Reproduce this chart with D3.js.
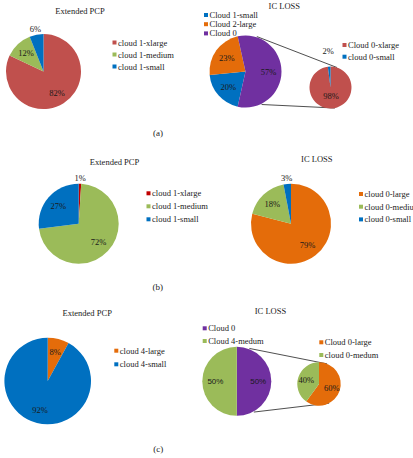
<!DOCTYPE html>
<html>
<head>
<meta charset="utf-8">
<script src="https://cdn.jsdelivr.net/npm/d3@7"></script>
<style>
  body { margin: 0; background: #fff; }
  svg { display: block; }
</style>
</head>
<body>
<svg id="chart"></svg>
<script>
// values (percent)
const aPcpCats = ["cloud 1-xlarge", "cloud 1-medium", "cloud 1-small"];
const aPcpVals = [82, 12, 6];
const aLossCats = ["Cloud 1-small", "Cloud 2-large", "Cloud 0"];
const aLossVals = [20, 23, 57];
const aLossSubCats = ["Cloud 0-xlarge", "cloud 0-small"];
const aLossSubVals = [98, 2];

const bPcpCats = ["cloud 1-xlarge", "cloud 1-medium", "cloud 1-small"];
const bPcpVals = [1, 72, 27];
const bLossCats = ["cloud 0-large", "cloud 0-medium", "cloud 0-small"];
const bLossVals = [79, 18, 3];

const cPcpCats = ["cloud 4-large", "cloud 4-small"];
const cPcpVals = [8, 92];
const cLossCats = ["Cloud 0", "Cloud 4-medum"];
const cLossVals = [50, 50];
const cLossSubCats = ["Cloud 0-large", "cloud 0-medum"];
const cLossSubVals = [60, 40];

// colours
const RED = "#C0504D", GREEN = "#9BBB59", BLUE = "#0070C0",
      PURPLE = "#7030A0", ORANGE = "#E46C0A", DARKRED = "#C00000";

const width = 413, height = 458;
const serif = "'Liberation Serif', 'Times New Roman', serif";
const sans = "'Liberation Sans', Arial, sans-serif";

const svg = d3.select("#chart")
    .attr("width", width)
    .attr("height", height)
    .attr("viewBox", [0, 0, width, height]);

svg.append("rect").attr("width", width).attr("height", height).attr("fill", "#fff");

// point on a circle, angle in degrees clockwise from 12 o'clock
function pt(cx, cy, r, deg) {
    const a = deg * Math.PI / 180;
    return [cx + Math.sin(a) * r, cy - Math.cos(a) * r];
}

function drawPie(o) {
    const total = d3.sum(o.values);
    let start = 0;
    if (o.centerRight !== undefined) {
        // pie-of-pie: that slice sits centred on 3 o'clock
        const before = d3.sum(o.values.slice(0, o.centerRight)) / total * 2 * Math.PI;
        const share = o.values[o.centerRight] / total * 2 * Math.PI;
        start = Math.PI / 2 - share / 2 - before;
    }
    const pie = d3.pie().sort(null).startAngle(start).endAngle(start + 2 * Math.PI);
    const arc = d3.arc().innerRadius(0).outerRadius(o.r);
    const arcs = pie(o.values);

    const G = svg.append("g").attr("transform", "translate(" + o.cx + "," + o.cy + ")");

    G.selectAll("path")
        .data(arcs)
        .enter()
        .append("path")
        .attr("d", arc)
        .attr("fill", (d, i) => o.colors[i]);

    G.selectAll("text")
        .data(arcs)
        .enter()
        .append("text")
        .attr("transform", d => {
            const k = d.value / total < 0.07 ? o.outK : o.inK;
            const a = (d.startAngle + d.endAngle) / 2;
            return "translate(" + (Math.sin(a) * o.r * k) + "," + (-Math.cos(a) * o.r * k) + ")";
        })
        .attr("text-anchor", "middle")
        .attr("dominant-baseline", "central")
        .attr("font-family", o.labelFont || serif)
        .attr("font-size", o.labelSize || 8.5)
        .attr("fill", "#1a1a1a")
        .text(d => d.value + "%");
}

function legend(x, y, step, cats, colors) {
    const L = svg.append("g").attr("transform", "translate(" + x + "," + y + ")");
    const rows = L.selectAll("g")
        .data(cats)
        .enter()
        .append("g")
        .attr("transform", (d, i) => "translate(0," + (i * step) + ")");
    rows.append("rect")
        .attr("x", 0).attr("y", -2)
        .attr("width", 4).attr("height", 4)
        .attr("fill", (d, i) => colors[i]);
    rows.append("text")
        .attr("x", 5.5)
        .attr("dominant-baseline", "central")
        .attr("font-family", serif)
        .attr("font-size", 8.5)
        .attr("fill", "#222")
        .text(d => d);
}

function title(x, y, txt, size) {
    svg.append("text")
        .attr("x", x).attr("y", y)
        .attr("text-anchor", "middle")
        .attr("dominant-baseline", "central")
        .attr("font-family", serif)
        .attr("font-size", size || 8.5)
        .attr("fill", "#222")
        .text(txt);
}

function connector(m, s, a1, a2) {
    const p1 = pt(m.cx, m.cy, m.r * 1.02, a1);
    const p2 = pt(s.cx, s.cy, s.r, a2);
    svg.append("line")
        .attr("x1", p1[0]).attr("y1", p1[1])
        .attr("x2", p2[0]).attr("y2", p2[1])
        .attr("stroke", "#222")
        .attr("stroke-width", 0.8);
}

// ---------- (a) ----------
title(80, 10.7, "Extended PCP");
drawPie({ cx: 43.5, cy: 71.5, r: 37.5, values: aPcpVals, colors: [RED, GREEN, BLUE], inK: 0.68, outK: 1.15 });
legend(112.5, 42.5, 12, aPcpCats, [RED, GREEN, BLUE]);

title(284.3, 5.7, "IC LOSS");
const aMain = { cx: 245.5, cy: 71.5, r: 36 };
const aSub = { cx: 330.5, cy: 87.5, r: 21 };
connector(aMain, aSub, 18, 18);
connector(aMain, aSub, 154, 168);
drawPie(Object.assign({ values: aLossVals, colors: [BLUE, ORANGE, PURPLE], centerRight: 2, inK: 0.64, outK: 1.15 }, aMain));
drawPie(Object.assign({ values: aLossSubVals, colors: [RED, BLUE], inK: 0.4, outK: 1.72 }, aSub));
legend(204, 15, 9.2, aLossCats, [BLUE, ORANGE, PURPLE]);
legend(342.5, 45, 11.7, aLossSubCats, [RED, BLUE]);

title(158, 132.7, "(a)", 9);

// ---------- (b) ----------
title(114.5, 162.3, "Extended PCP");
drawPie({ cx: 78.7, cy: 223.7, r: 40, values: bPcpVals, colors: [DARKRED, GREEN, BLUE], inK: 0.68, outK: 1.14 });
legend(146.5, 193.3, 13, bPcpCats, [DARKRED, GREEN, BLUE]);

title(316.8, 159.3, "IC LOSS");
drawPie({ cx: 291, cy: 223.7, r: 40, values: bLossVals, colors: [ORANGE, GREEN, BLUE], inK: 0.68, outK: 1.14 });
legend(359, 194, 12.7, bLossCats, [ORANGE, GREEN, BLUE]);

title(157.7, 286.7, "(b)", 9);

// ---------- (c) ----------
title(87.2, 313.3, "Extended PCP");
drawPie({ cx: 47.7, cy: 381, r: 43.3, values: cPcpVals, colors: [ORANGE, BLUE], inK: 0.7, outK: 1.15 });
legend(114.3, 350.7, 13.6, cPcpCats, [ORANGE, BLUE]);

title(270.5, 311, "IC LOSS");
const cMain = { cx: 236.8, cy: 381.3, r: 34.5 };
const cSub = { cx: 319, cy: 384, r: 21.7 };
connector(cMain, cSub, 21, 22);
connector(cMain, cSub, 151, 152);
drawPie(Object.assign({ values: cLossVals, colors: [PURPLE, GREEN], centerRight: 0, inK: 0.62, outK: 1.15, labelFont: sans, labelSize: 8 }, cMain));
drawPie(Object.assign({ values: cLossSubVals, colors: [ORANGE, GREEN], inK: 0.62, outK: 1.15 }, cSub));
legend(202.7, 328.3, 12.7, cLossCats, [PURPLE, GREEN]);
legend(319.3, 342.3, 12.7, cLossSubCats, [ORANGE, GREEN]);

title(158.3, 449, "(c)", 9);
</script>
</body>
</html>
